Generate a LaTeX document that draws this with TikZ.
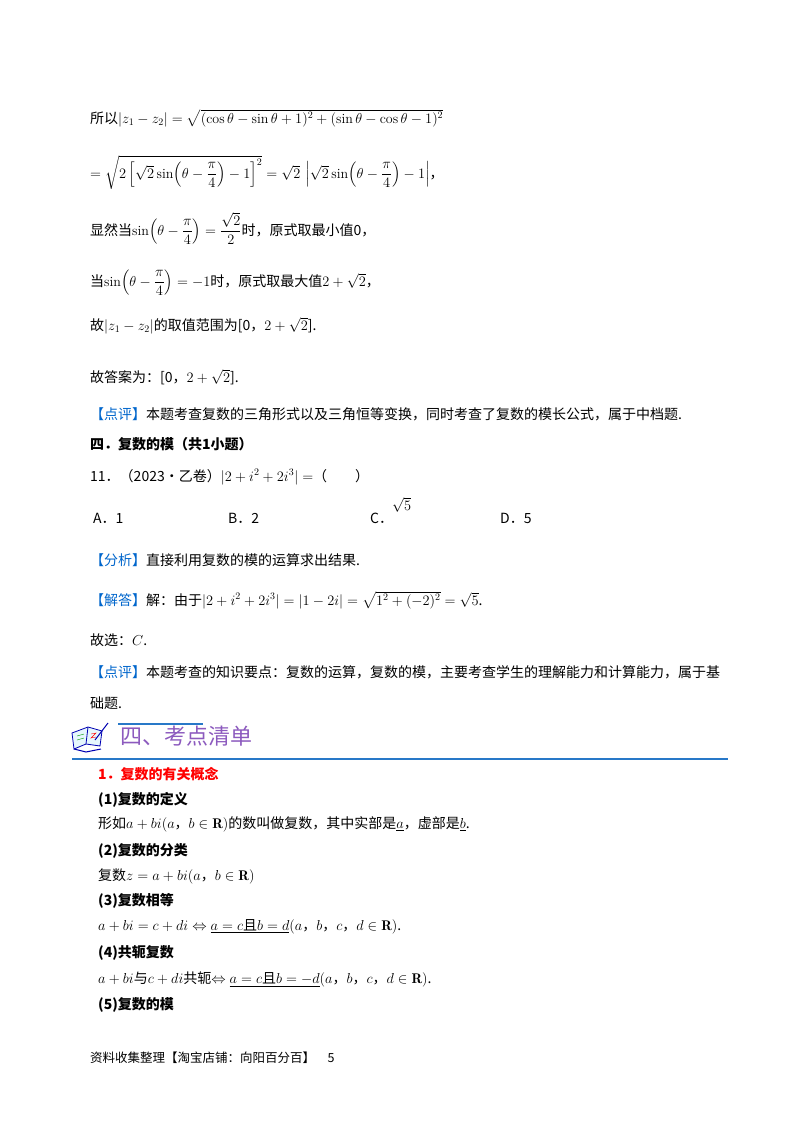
\documentclass[tikz,border=0pt]{standalone}
\usepackage{fontspec}
\usepackage{amsmath,amssymb}
\newfontfamily\cjk{Noto Sans CJK SC}
\definecolor{dpblue}{RGB}{0,102,204}
\definecolor{hdpurple}{RGB}{140,90,190}
\definecolor{hdline}{RGB}{40,120,200}
\begin{document}
\begin{tikzpicture}[x=1pt,y=-1pt,
  t/.style={anchor=base west,inner sep=0pt,font=\fontsize{14}{16}\selectfont\cjk},
  bt/.style={t,font=\fontsize{14}{16}\selectfont\cjk\bfseries}]
\useasboundingbox[fill=white] (0,0) rectangle (800,1132);
\newcommand{\hz}[1]{{\cjk #1}}
\node[t] (l1) at (90,123) {所以$|z_1-z_2|=\sqrt{(\cos\theta-\sin\theta+1)^2+(\sin\theta-\cos\theta-1)^2}$};
\node[t] (l2) at (90,178) {$=\sqrt{2\left[\sqrt2\sin\!\left(\theta-\dfrac{\pi}{4}\right)-1\right]^2}=\sqrt2\,\left|\sqrt2\sin\!\left(\theta-\dfrac{\pi}{4}\right)-1\right|$，};
\node[t] (l3) at (90,235) {显然当$\sin\!\left(\theta-\dfrac{\pi}{4}\right)=\dfrac{\sqrt2}{2}$时，原式取最小值0，};
\node[t] (l4) at (90,286) {当$\sin\!\left(\theta-\dfrac{\pi}{4}\right)=-1$时，原式取最大值$2+\sqrt2$，};
\node[t] (l5) at (90,330) {故$|z_1-z_2|$的取值范围为[0，$2+\sqrt2$].};
\node[t] (l6) at (90,382) {故答案为：[0，$2+\sqrt2$].};
\node[t] (l7) at (90,419) {\textcolor{dpblue}{【点评】}本题考查复数的三角形式以及三角恒等变换，同时考查了复数的模长公式，属于中档题.};
\node[bt] (l8) at (90,449) {四．复数的模（共1小题）};
\node[t] (l9) at (90,481) {11．（2023•乙卷）$|2+i^2+2i^3|=$（　　）};
\node[t] (oA) at (93,523) {A．1};
\node[t] (oB) at (228,523) {B．2};
\node[t] (oC) at (370,523) {C．};
\node[t] (oCv) at (392,510) {$\sqrt5$};
\node[t] (oD) at (500,523) {D．5};
\node[t] (l10) at (90,565) {\textcolor{dpblue}{【分析】}直接利用复数的模的运算求出结果.};
\node[t] (l11) at (90,605) {\textcolor{dpblue}{【解答】}解：由于$|2+i^2+2i^3|=|1-2i|=\sqrt{1^2+(-2)^2}=\sqrt5$.};
\node[t] (l12) at (90,645) {故选：$C$.};
\node[t] (l13) at (90,677) {\textcolor{dpblue}{【点评】}本题考查的知识要点：复数的运算，复数的模，主要考查学生的理解能力和计算能力，属于基};
\node[t] (l14) at (90,708) {础题.};
% header icon
\draw[blue!70!black,fill=cyan!10,line width=0.8pt] (72,733) -- (88,727) -- (102,731) -- (100,746) -- (86,744) -- (74,749) -- cycle;
\draw[blue!70!black,line width=0.8pt] (88,727) -- (86,744);
\draw[blue!70!black,line width=1pt] (74,749) -- (86,752) -- (101,749);
\draw[green!60!black] (77,736) -- (84,734) (77,740) -- (84,738);
\draw[red] (91,734) -- (96,733) -- (91,738) -- (96,737);
\draw[blue!70!black,line width=1pt] (95,740) -- (108,723);
\draw[hdline,line width=1.2pt] (118,724) -- (203,724);
\node[t,font=\fontsize{22}{24}\selectfont\cjk,text=hdpurple] (hd) at (120,744) {四、考点清单};
\draw[hdline,line width=1.5pt] (72,759) -- (728,759);
\node[bt,text=red] (s1) at (98,779) {1．复数的有关概念};
\node[bt] (s2) at (98,804) {(1)复数的定义};
\node[t] (s3) at (98,828) {形如$a+bi(a$，$b\in\mathbf{R})$的数叫做复数，其中实部是$\underline{a}$，虚部是$\underline{b}$.};
\node[bt] (s4) at (98,855) {(2)复数的分类};
\node[t] (s5) at (98,880) {复数$z=a+bi(a$，$b\in\mathbf{R})$};
\node[bt] (s6) at (98,905) {(3)复数相等};
\node[t] (s7) at (98,930) {$a+bi=c+di\Leftrightarrow\underline{a=c\text{\hz{且}}b=d}(a$，$b$，$c$，$d\in\mathbf{R})$.};
\node[bt] (s8) at (98,957) {(4)共轭复数};
\node[t] (s9) at (98,983) {$a+bi$与$c+di$共轭$\Leftrightarrow\underline{a=c\text{\hz{且}}b=-d}(a$，$b$，$c$，$d\in\mathbf{R})$.};
\node[bt] (s10) at (98,1009) {(5)复数的模};
\node[t,font=\fontsize{12.5}{14}\selectfont\cjk] (ft) at (90,1062) {资料收集整理【淘宝店铺：向阳百分百】\quad 5};
\end{tikzpicture}
\end{document}
